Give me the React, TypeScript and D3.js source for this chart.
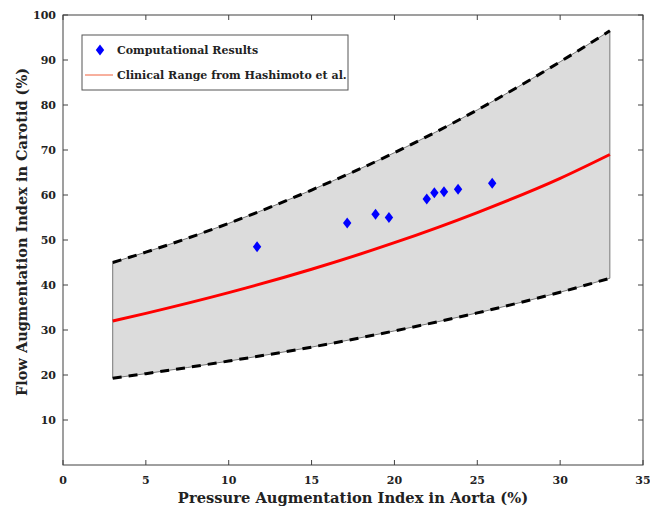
import React from 'react';
import * as d3 from 'd3';

// clinical range
const rangeX = [3, 5, 10, 15, 20, 25, 30, 33];
const upperBound = [45, 47.3, 53.7, 61.1, 69.4, 78.9, 89.6, 96.5];
const meanLine = [32, 33.7, 38.3, 43.5, 49.4, 56.1, 63.7, 69];
const lowerBound = [19.3, 20.3, 23.1, 26.2, 29.8, 33.8, 38.4, 41.5];

// computational results
const pressureAI = [11.71, 17.15, 18.86, 19.67, 21.95, 22.41, 22.99, 23.84, 25.9];
const flowAI = [48.5, 53.8, 55.7, 55.0, 59.1, 60.5, 60.7, 61.3, 62.6];

const xTicks = [0, 5, 10, 15, 20, 25, 30, 35];
const yTicks = [10, 20, 30, 40, 50, 60, 70, 80, 90, 100];

const W = 650;
const H = 511;
const m = { left: 63, right: 643, top: 15, bottom: 465 };
const font = '"DejaVu Serif", serif';
const axisColor = '#404040';

const App = () => {
  const x = d3.scaleLinear().domain([0, 35]).range([m.left, m.right]);
  const y = d3.scaleLinear().domain([0, 100]).range([m.bottom, m.top]);

  const idx = rangeX.map((_, i) => i);
  const curve = d3.curveMonotoneX;
  const area = d3
    .area<number>()
    .x((i) => x(rangeX[i]))
    .y0((i) => y(lowerBound[i]))
    .y1((i) => y(upperBound[i]))
    .curve(curve);
  const lineOf = (vals: number[]) =>
    d3
      .line<number>()
      .x((i) => x(rangeX[i]))
      .y((i) => y(vals[i]))
      .curve(curve)(idx) || '';

  const diamond = 'M0,-5.5L4.2,0L0,5.5L-4.2,0Z';

  return (
    <svg width={W} height={H} style={{ position: 'absolute', left: 0, top: 0, background: '#fff' }}>
      {/* range band */}
      <path d={area(idx) || ''} fill="#dcdcdc" stroke="#777" strokeWidth={1} />
      <path d={lineOf(upperBound)} fill="none" stroke="#000" strokeWidth={3} strokeDasharray="9,7" />
      <path d={lineOf(lowerBound)} fill="none" stroke="#000" strokeWidth={3} strokeDasharray="9,7" />
      <path d={lineOf(meanLine)} fill="none" stroke="#ff0000" strokeWidth={3} />

      {pressureAI.map((p, i) => (
        <path key={i} d={diamond} transform={`translate(${x(p)},${y(flowAI[i])})`} fill="#0000ff" />
      ))}

      {/* axes box */}
      <rect x={m.left} y={m.top} width={m.right - m.left} height={m.bottom - m.top} fill="none" stroke={axisColor} strokeWidth={1} />
      {xTicks.map((t) => (
        <g key={'x' + t}>
          <line x1={x(t)} x2={x(t)} y1={m.bottom} y2={m.bottom - 5} stroke={axisColor} />
          <line x1={x(t)} x2={x(t)} y1={m.top} y2={m.top + 5} stroke={axisColor} />
          <text x={x(t)} y={m.bottom + 19} textAnchor="middle" fontFamily={font} fontWeight="bold" fontSize={11} fill="#222">
            {t}
          </text>
        </g>
      ))}
      {yTicks.map((t) => (
        <g key={'y' + t}>
          <line x1={m.left} x2={m.left + 5} y1={y(t)} y2={y(t)} stroke={axisColor} />
          <line x1={m.right} x2={m.right - 5} y1={y(t)} y2={y(t)} stroke={axisColor} />
          <text x={m.left - 7} y={y(t) + 4} textAnchor="end" fontFamily={font} fontWeight="bold" fontSize={11} fill="#222">
            {t}
          </text>
        </g>
      ))}

      <text x={353} y={503} textAnchor="middle" fontFamily={font} fontWeight="bold" fontSize={14.7} fill="#222">
        Pressure Augmentation Index in Aorta (%)
      </text>
      <text
        transform={`translate(27,232) rotate(-90)`}
        textAnchor="middle"
        fontFamily={font}
        fontWeight="bold"
        fontSize={14.5}
        fill="#222"
      >
        Flow Augmentation Index in Carotid (%)
      </text>

      {/* legend */}
      <rect x={82} y={35} width={266} height={55} fill="#fff" stroke="#555" strokeWidth={1} />
      <path d={diamond} transform="translate(100,50)" fill="#0000ff" />
      <text x={117} y={54} fontFamily={font} fontWeight="bold" fontSize={11} fill="#222">
        Computational Results
      </text>
      <line x1={85} x2={113} y1={75} y2={75} stroke="#f0603c" strokeWidth={1} />
      <text x={117} y={79} fontFamily={font} fontWeight="bold" fontSize={11} fill="#222">
        Clinical Range from Hashimoto et al.
      </text>
    </svg>
  );
};

export default App;
